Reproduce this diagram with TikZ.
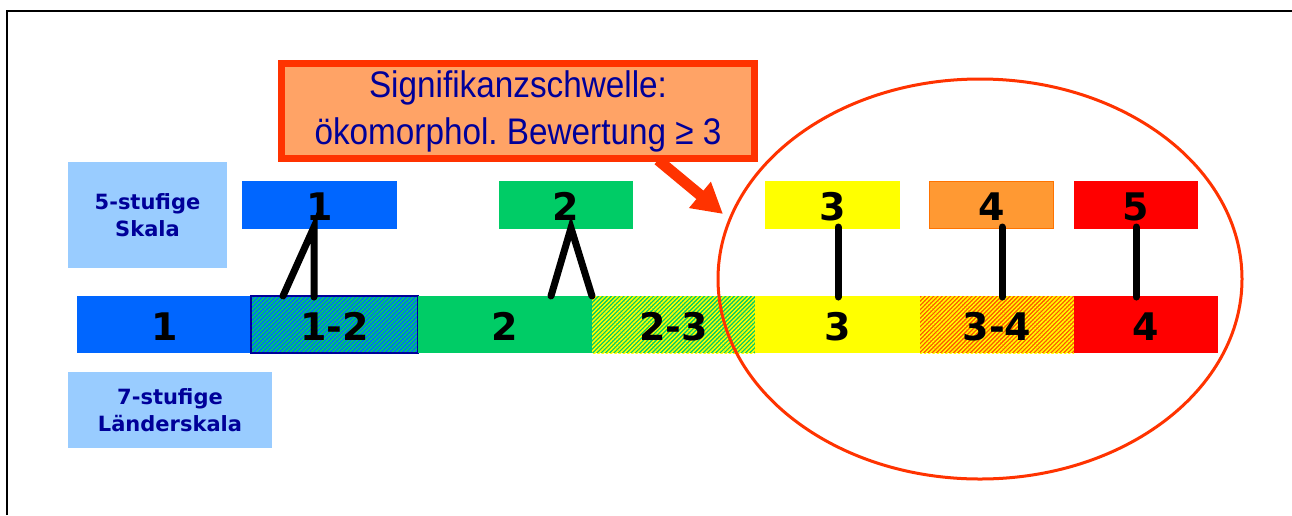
\documentclass[tikz,border=0pt]{standalone}
\usepackage{fontspec}
\setmainfont{DejaVu Sans}
\newfontfamily\calloutfont[FakeStretch=0.9]{Liberation Sans}
\usetikzlibrary{shapes.geometric,arrows.meta,patterns.meta,calc}

\definecolor{skyblue}{HTML}{99CCFF}
\definecolor{labeltext}{HTML}{000099}
\definecolor{calloutfill}{HTML}{FFA366}
\definecolor{signalred}{HTML}{FF3300}
\definecolor{classblue}{HTML}{0066FF}
\definecolor{classgreen}{HTML}{00CC66}
\definecolor{classyellow}{HTML}{FFFF00}
\definecolor{classorange}{HTML}{FF9933}
\definecolor{classred}{HTML}{FF0000}
\definecolor{hatchorange}{HTML}{FF5500}
\definecolor{darkframe}{HTML}{000099}
\frenchspacing

\begin{document}
\begin{tikzpicture}[x=1pt,y=-1pt,
  scalelabel/.style={fill=skyblue, text=labeltext, align=center, inner sep=0pt,
    outer sep=0pt, font=\bfseries\fontsize{21}{27.5}\selectfont},
  classbox/.style={inner sep=0pt, outer sep=0pt, text height=31pt, text depth=0pt,
    font=\bfseries\fontsize{38}{38}\selectfont},
  topbox/.style={classbox, minimum height=48pt},
  barbox/.style={classbox, minimum height=57pt},
  hatched/.style 2 args={preaction={fill=#1},
    pattern={Lines[angle=45,distance=3pt,line width=1.5pt]}, pattern color=#2},
  link/.style={line width=7pt, line cap=round, black},
]
\useasboundingbox (0,0) rectangle (1292,515);
\fill[white] (0,0) rectangle (1292,515);

% frame lines along the top and the left side
\draw[line width=2.5pt] (7,515) -- (7,11) -- (1292,11);

% scale labels
\node[scalelabel, minimum width=159pt, minimum height=106pt] (s5) at (147.5,215) {5-stufige\\Skala};
\node[scalelabel, minimum width=204pt, minimum height=76pt] (s7) at (170,410) {7-stufige\\Länderskala};

% 5-level scale
\node[topbox, fill=classblue,   minimum width=155pt] (t1) at (319.5,205) {1};
\node[topbox, fill=classgreen,  minimum width=134pt] (t2) at (566,205) {2};
\node[topbox, fill=classyellow, minimum width=135pt] (t3) at (832.5,205) {3};
\node[topbox, fill=classorange, draw=orange!90!red, line width=1pt, minimum width=124pt, minimum height=47pt] (t4) at (991.5,205) {4};
\node[topbox, fill=classred,    minimum width=124pt] (t5) at (1136,205) {5};

% 7-level state scale
\node[barbox, fill=classblue, minimum width=175pt] (b1) at (164.5,324.5) {1};
\node[barbox, hatched={classblue}{classgreen}, minimum width=167pt] (b12) at (334.5,324.5) {1-2};
\draw[darkframe, line width=2.5pt] (b12.south west) rectangle (b12.north east);
\node[barbox, fill=classgreen, minimum width=174pt] (b2) at (505,324.5) {2};
\node[barbox, hatched={classgreen}{classyellow}, minimum width=163pt] (b23) at (673.5,324.5) {2-3};
\node[barbox, fill=classyellow, minimum width=165pt] (b3) at (837.5,324.5) {3};
\node[barbox, hatched={hatchorange}{classyellow}, minimum width=154pt] (b34) at (997,324.5) {3-4};
\node[barbox, fill=classred, minimum width=144pt] (b4) at (1146,324.5) {4};

% connection points between the two scales
\coordinate (k1) at (314,227);
\coordinate (k1a) at (283,296);
\coordinate (k1b) at (314,297);
\coordinate (k2) at (571,228);
\coordinate (k2a) at (551,296);
\coordinate (k2b) at (592,296);
\coordinate (k3) at (838,227);
\coordinate (k3b) at (838,297);
\coordinate (k4) at (1002,227);
\coordinate (k4b) at (1002,297);
\coordinate (k5) at (1136,227);
\coordinate (k5b) at (1136,297);

\draw[link] (k1a) -- (k1) -- (k1b);
\draw[link] (k2a) -- (k2) -- (k2b);
\draw[link] (k3) -- (k3b);
\draw[link] (k4) -- (k4b);
\draw[link] (k5) -- (k5b);

% significance threshold
\node[ellipse, draw=signalred, line width=3pt, minimum width=524pt, minimum height=400pt,
  inner sep=0pt] (zone) at (980,279) {};

\node[fill=calloutfill, draw=signalred, line width=7pt, minimum width=473pt,
  minimum height=95pt, inner sep=0pt, align=center, text=labeltext,
  font=\calloutfont\fontsize{37}{47}\selectfont] (callout) at (518,111)
  {Signifikanzschwelle:\\ökomorphol. Bewertung ≥ 3};

\coordinate (arrowstart) at ($(callout.south)+(140,-2)$);
\coordinate (arrowtip) at (723,214);
\draw[signalred, line width=11pt, -{Triangle[length=30pt,width=32pt]}] (arrowstart) -- (arrowtip);
\end{tikzpicture}
\end{document}
